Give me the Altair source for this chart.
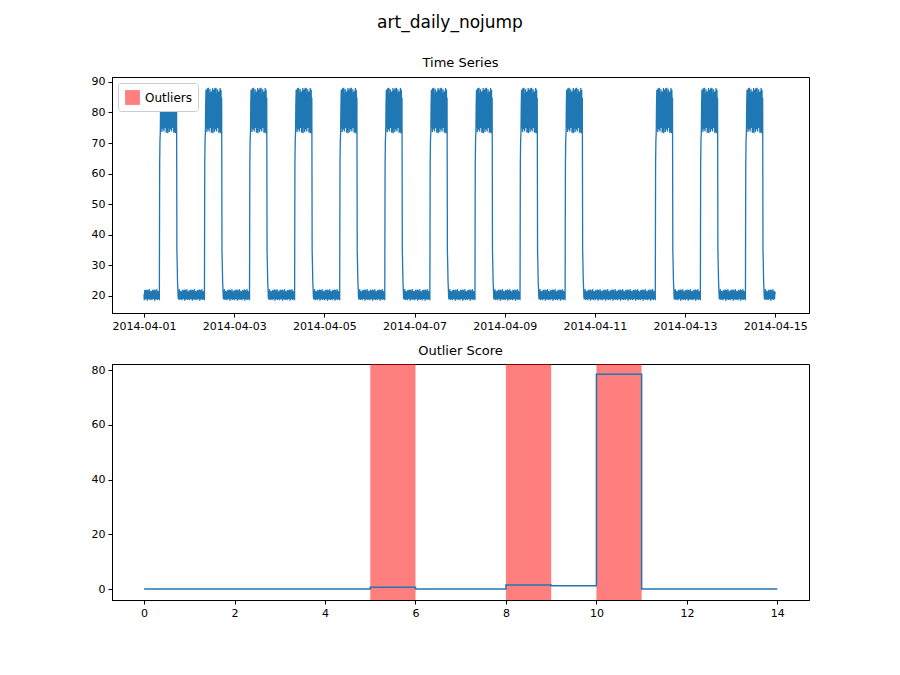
import altair as alt
import pandas as pd

# ---- data ----
dates_active = [1,1,1,1,1,1,1,1,1,1,0,1,1,1]   # 2014-04-01 .. 2014-04-14: daytime high block present
low_noise = [20.5,18.6,21.8,19.4,22.0,18.9,20.8,21.5,19.1,22.1,18.4,20.2,21.9,19.7,18.8,21.2,20.0,22.2,19.3,18.7,21.6,20.4,19.0,21.4]
high_noise = [74.1,86.9,76.3,88.0,73.2,82.5,87.4,75.0,84.8,73.6,87.9,78.2,85.6,74.4,88.1,80.3,73.8,86.2,77.1,87.6,74.9,83.7,86.8,73.4]
rise_vals = [63.0, 71.0]
fall_vals = [35.0, 30.5, 25.0, 22.5]
rise_step, fall_step = 50, 105   # 10-minute steps within a day

score_x = [0, 5, 6, 8, 9, 10, 11, 14]
score_y = [0.0, 0.7, 0.0, 1.5, 1.2, 78.5, 0.0, 0.0]
out_start = [5, 8, 10]
out_end = [6, 9, 11]

rows = []
k = 0
for d, act in enumerate(dates_active):
    for s in range(144):
        t = d + s / 144
        if act and rise_step <= s < rise_step + 2:
            v = rise_vals[s - rise_step]
        elif act and rise_step + 2 <= s < fall_step:
            v = high_noise[k % len(high_noise)]
        elif act and fall_step <= s < fall_step + 4:
            v = fall_vals[s - fall_step]
        else:
            v = low_noise[k % len(low_noise)]
        k += 1
        rows.append({"t": t, "v": v})
rows.append({"t": 14.0, "v": 20.5})
ts = pd.DataFrame(rows)

sc = pd.DataFrame({"x": score_x, "y": score_y})
rects = pd.DataFrame({"a": out_start, "b": out_end, "lab": ["Outliers"] * 3})

W, H = 697, 236
blue = "#1f77b4"
label_expr = "'2014-04-' + (datum.value + 1 < 10 ? '0' : '') + (datum.value + 1)"

top = alt.Chart(ts, title=alt.TitleParams("Time Series", fontSize=13, fontWeight="normal", offset=6)).mark_line(
    color=blue, strokeWidth=1.3).encode(
    x=alt.X("t:Q", scale=alt.Scale(domain=[-0.71, 14.75], nice=False, zero=False),
            axis=alt.Axis(values=[0, 2, 4, 6, 8, 10, 12, 14], labelExpr=label_expr), title=None),
    y=alt.Y("v:Q", scale=alt.Scale(domain=[14.4, 91.6], nice=False, zero=False),
            axis=alt.Axis(values=[20, 30, 40, 50, 60, 70, 80, 90]), title=None),
).properties(width=W, height=H)

xs = alt.Scale(domain=[-0.71, 14.7], nice=False, zero=False)
ys = alt.Scale(domain=[-4.0, 82.2], nice=False, zero=False)
rect = alt.Chart(rects).mark_rect(opacity=0.5).encode(
    x=alt.X("a:Q", scale=xs, axis=alt.Axis(values=list(range(0, 15, 2))), title=None),
    x2="b:Q",
    y=alt.value(0), y2=alt.value(H),
    color=alt.Color("lab:N", scale=alt.Scale(range=["#ff0000"]),
                    legend=alt.Legend(title=None, orient="top-left", symbolType="square", symbolSize=220,
                                      symbolOpacity=0.5, fillColor="white", strokeColor="#cccccc",
                                      padding=6, cornerRadius=3, labelFontSize=12, offset=6)),
)
line = alt.Chart(sc).mark_line(interpolate="step-after", color=blue, strokeWidth=1.5).encode(
    x=alt.X("x:Q", scale=xs),
    y=alt.Y("y:Q", scale=ys, axis=alt.Axis(values=[0, 20, 40, 60, 80]), title=None),
)
bottom = alt.layer(rect, line, title=alt.TitleParams("Outlier Score", fontSize=13, fontWeight="normal", offset=6)).properties(width=W, height=H)

chart = alt.vconcat(top, bottom, spacing=12).properties(
    title=alt.TitleParams("art_daily_nojump", fontSize=17, fontWeight="normal", anchor="middle", offset=24),
    padding={"left": 82, "top": 6, "right": 10, "bottom": 10},
).configure(font="DejaVu Sans").configure_view(stroke="black", strokeWidth=1).configure_axis(
    grid=False, domainColor="black", tickColor="black", labelColor="black", labelFontSize=11,
    tickSize=4, labelPadding=3, labelFlush=False,
).configure_title(font="DejaVu Sans", color="black")

chart.save("out.html", embed_options={"renderer": "svg", "actions": False})
